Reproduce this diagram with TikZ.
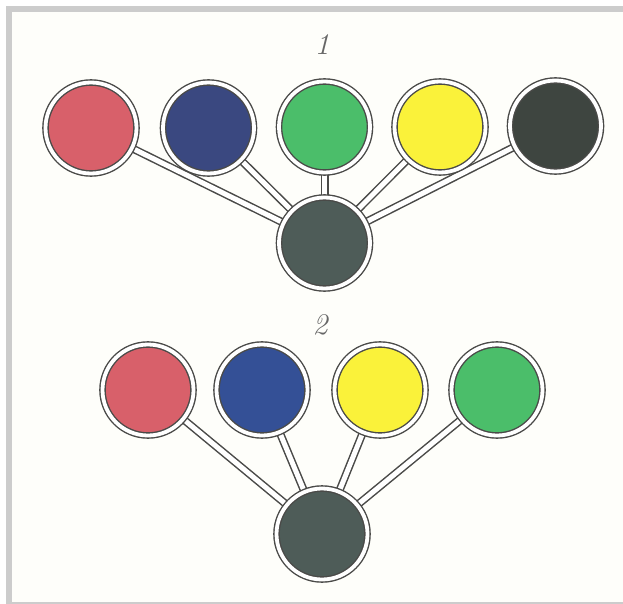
\documentclass[tikz,border=0pt]{standalone}
\definecolor{paper}{RGB}{254,254,250}
\definecolor{frame}{RGB}{204,204,204}
\definecolor{inkline}{RGB}{74,74,72}
\definecolor{pred}{RGB}{216,96,106}
\definecolor{pblue}{RGB}{58,72,128}
\definecolor{pblueb}{RGB}{52,80,150}
\definecolor{pgreen}{RGB}{75,190,106}
\definecolor{pyellow}{RGB}{250,242,58}
\definecolor{pblack}{RGB}{62,69,64}
\definecolor{pmix}{RGB}{78,92,88}
\usepackage{tikz}
\usetikzlibrary{backgrounds}

\begin{document}
\begin{tikzpicture}[x=1pt, y=-1pt,
    disc/.style={circle, inner sep=0pt, minimum size=91pt, draw=inkline,
      line width=1.4pt, double=white, double distance=3.8pt},
    rod/.style={draw=inkline, line width=1.5pt, double=white, double distance=5pt},
    numeral/.style={font=\fontsize{30}{30}\selectfont\itshape, text=gray!80!black},
  ]
    \useasboundingbox (0,0) rectangle (623,604);
    % figure 1
    \node[numeral] (n1) at (322, 45) {1};
    \node[disc, fill=pred] (r1) at (91, 128) {};
    \node[disc, fill=pblue] (b1) at (208.5, 128) {};
    \node[disc, fill=pgreen] (g1) at (324.5, 127) {};
    \node[disc, fill=pyellow] (y1) at (440, 127) {};
    \node[disc, fill=pblack] (k1) at (555.5, 126) {};
    \node[disc, fill=pmix] (m1) at (324.5, 243) {};
    % figure 2
    \node[numeral] (n2) at (320, 325) {2};
    \node[disc, fill=pred] (r2) at (148, 390) {};
    \node[disc, fill=pblueb] (b2) at (262, 390) {};
    \node[disc, fill=pyellow] (y2) at (380, 390) {};
    \node[disc, fill=pgreen] (g2) at (497, 390) {};
    \node[disc, fill=pmix] (m2) at (322, 534) {};
    \begin{scope}[on background layer]
      \fill[paper] (12, 12) rectangle (623, 602);
      \fill[frame] (6, 6) rectangle (623, 12);
      \fill[frame] (6, 6) rectangle (12, 604);
      \fill[frame] (6, 602) rectangle (623, 604);
      \foreach \c in {r1, b1, g1, y1, k1}
        \draw[rod] (\c.center) -- (m1.center);
      \foreach \c in {r2, b2, y2, g2}
        \draw[rod] (\c.center) -- (m2.center);
    \end{scope}
  \end{tikzpicture}
\end{document}
